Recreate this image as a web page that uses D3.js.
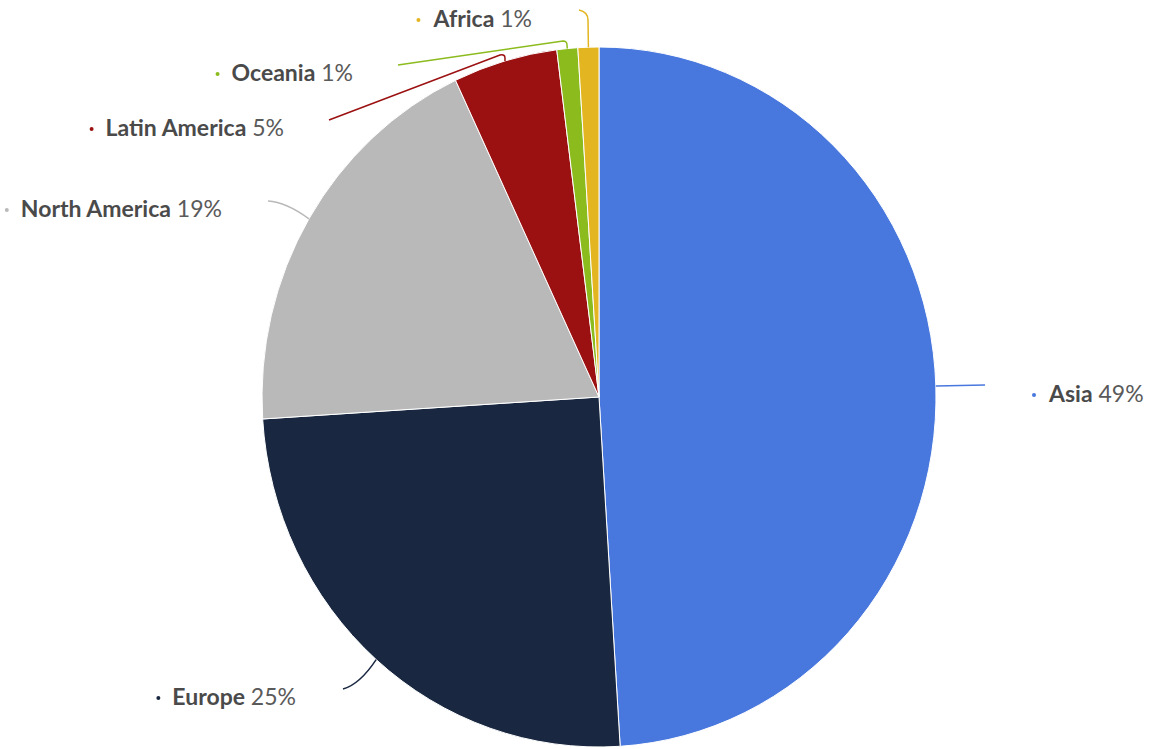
<!DOCTYPE html>
<html>
<head>
<meta charset="utf-8">
<script src="https://cdn.jsdelivr.net/npm/d3@7"></script>
<style>
  html, body { margin: 0; padding: 0; background: #fff; }
  svg { display: block; }
  .lbl { font-family: Lato, "Open Sans", sans-serif; font-size: 23px; }
  .lbl .name { font-weight: 700; fill: #4a4a4a; }
  .lbl .val { font-weight: 400; fill: #5a5a5a; }
</style>
</head>
<body>
<svg id="chart" width="1175" height="749"></svg>
<script>
// Share by region, clockwise from 12 o'clock
const categories = ["Asia", "Europe", "North America", "Latin America", "Oceania", "Africa"];
const shares = [49, 25, 19, 5, 1, 1];
const colors = ["#4878de", "#192840", "#b9b9b9", "#9b1010", "#8bbb1d", "#e3b520"];

// Pie geometry (slightly taller than wide)
const cx = 599, cy = 397, r = 337, ky = 350 / 337;

// Label placement: text anchor point, and connector points from the label side
// toward the slice (the slice edge point is appended from the arc).
const labelLayout = [
  { x: 1049, y: 402, anchor: "start", link: [[985, 385]] },
  { x: 296,  y: 705, anchor: "end",   link: [[343, 689], ["Q", 360, 684]] },
  { x: 222,  y: 217, anchor: "end",   link: [[268, 201], ["Q", 286, 202]] },
  { x: 284,  y: 136, anchor: "end",   link: [[329, 120], [500, 55], ["Q", 505, 54], [505, 58]] },
  { x: 353,  y: 81,  anchor: "end",   link: [[398, 65], [563, 41], ["Q", 567, 41], [567, 45]] },
  { x: 532,  y: 27,  anchor: "end",   link: [[579, 10], ["Q", 588, 12], [588, 20]] }
];

const svg = d3.select("#chart");

const pie = d3.pie().sort(null).value(d => d);
const arcs = pie(shares);
const arc = d3.arc().innerRadius(0).outerRadius(r);

const g = svg.append("g").attr("transform", `translate(${cx},${cy}) scale(1,${ky})`);
g.selectAll("path.slice")
  .data(arcs)
  .join("path")
  .attr("class", "slice")
  .attr("d", arc)
  .attr("fill", (d, i) => colors[i])
  .attr("stroke", "#ffffff")
  .attr("stroke-width", 1)
  .attr("vector-effect", "non-scaling-stroke");

// Point on the slice's outer edge at its mid angle, in page coordinates
function edgePoint(d) {
  const a = (d.startAngle + d.endAngle) / 2;
  return [cx + r * Math.sin(a), cy - r * ky * Math.cos(a)];
}

// Connector from the label side to the slice edge; ["Q", x, y] marks a curve control point
function connectorPath(layout, d) {
  const e = edgePoint(d);
  const pts = layout.link;
  let s = `M${pts[0][0]},${pts[0][1]}`;
  let i = 1;
  while (i < pts.length) {
    const p = pts[i];
    if (p[0] === "Q") {
      const next = pts[i + 1] || e;
      s += `Q${p[1]},${p[2]} ${next[0]},${next[1]}`;
      i += 2;
    } else {
      s += `L${p[0]},${p[1]}`;
      i += 1;
    }
  }
  const last = pts[pts.length - 1];
  if (last[0] !== "Q") s += `L${e[0]},${e[1]}`;
  return s;
}

svg.append("g").selectAll("path.conn")
  .data(arcs)
  .join("path")
  .attr("class", "conn")
  .attr("d", (d, i) => connectorPath(labelLayout[i], d))
  .attr("fill", "none")
  .attr("stroke", (d, i) => colors[i])
  .attr("stroke-width", 1.5);

const labels = svg.append("g").selectAll("g.lbl")
  .data(arcs)
  .join("g")
  .attr("class", "lbl");

labels.each(function (d, i) {
  const L = labelLayout[i];
  const grp = d3.select(this);
  const t = grp.append("text")
    .attr("x", L.x)
    .attr("y", L.y)
    .attr("text-anchor", L.anchor);
  t.append("tspan").attr("class", "name").text(categories[i]);
  t.append("tspan").attr("class", "val").text(" " + shares[i] + "%");
  const bb = t.node().getBBox();
  grp.append("circle")
    .attr("cx", bb.x - 14)
    .attr("cy", L.y - 7)
    .attr("r", 2)
    .attr("fill", colors[i]);
});
</script>
</body>
</html>
